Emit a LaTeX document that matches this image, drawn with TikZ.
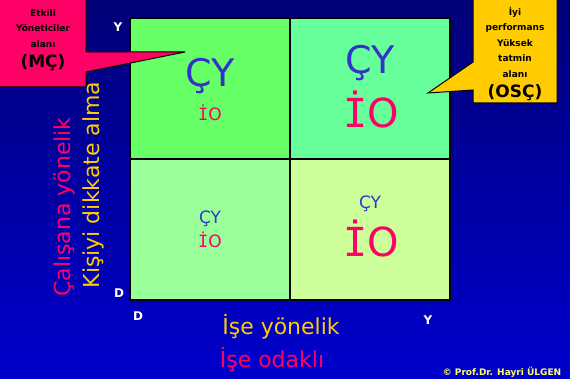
\documentclass[tikz,border=0pt]{standalone}
\usepackage{fontspec}
\setmainfont{DejaVu Sans}
\newfontfamily\iofont{DejaVu Sans Mono}
\newcommand{\IOmark}{{\iofont İ}O}
\usetikzlibrary{positioning}
\definecolor{bgtop}{RGB}{0, 0, 120}
\definecolor{bgbottom}{RGB}{0, 0, 205}
\definecolor{cellA}{RGB}{102, 255, 102}
\definecolor{cellB}{RGB}{102, 255, 153}
\definecolor{cellC}{RGB}{153, 255, 153}
\definecolor{cellD}{RGB}{204, 255, 153}
\definecolor{hotpink}{RGB}{255, 0, 102}
\definecolor{gold}{RGB}{255, 204, 0}
\definecolor{cyblue}{RGB}{51, 51, 204}
\definecolor{lightyellow}{RGB}{255, 255, 102}
\tikzset{
    cell/.style={draw=black, line width=1.5pt, minimum width=160pt, minimum height=141pt, inner sep=0pt, outer sep=0pt},
    bubble/.style={draw=black, line width=1pt},
    bubbletext/.style={align=center, font=\bfseries\fontsize{9}{15.5}\selectfont, text=black},
    axisletter/.style={white, font=\bfseries\fontsize{12}{12}\selectfont},
    cybig/.style={cyblue, font=\fontsize{38}{38}\selectfont},
    cysmall/.style={cyblue, font=\fontsize{17}{17}\selectfont},
    iobig/.style={hotpink, font=\fontsize{40}{40}\selectfont},
    iosmall/.style={hotpink, font=\fontsize{17}{17}\selectfont},
    axistitle/.style={font=\fontsize{22}{22}\selectfont, inner sep=0pt}
}

\begin{document}
\begin{tikzpicture}[x=1pt, y=-1pt]
    % background, dark navy fading to blue
    \shade[top color=bgtop, bottom color=bgbottom] (0,0) rectangle (570,379);
    \useasboundingbox (0,0) rectangle (570,379);

    % the four cells of the grid
    \node[cell, fill=cellA] (tl) at (210, 88.5) {};
    \node[cell, fill=cellB, right=0pt of tl] (tr) {};
    \node[cell, fill=cellC, below=0pt of tl] (bl) {};
    \node[cell, fill=cellD, right=0pt of bl] (br) {};

    % cell contents
    \node[cybig] (tlcy) at (210, 76) {ÇY};
    \node[iosmall] (tlio) at (210, 113) {\IOmark};
    \node[cybig] (trcy) at (370, 63) {ÇY};
    \node[iobig] (trio) at (371, 110) {\IOmark};
    \node[cysmall] (blcy) at (210, 219) {ÇY};
    \node[iosmall] (blio) at (210, 240) {\IOmark};
    \node[cysmall] (brcy) at (370, 204) {ÇY};
    \node[iobig] (brio) at (371, 239) {\IOmark};

    % axis end letters
    \node[axisletter] (ytop) at (118, 27) {Y};
    \node[axisletter] (dleft) at (119, 293) {D};
    \node[axisletter] (dbottom) at (138, 316) {D};
    \node[axisletter] (yright) at (428, 320) {Y};

    % axis titles
    \node[axistitle, gold, rotate=90] (kisiyi) at (93, 185) {Kişiyi dikkate alma};
    \node[axistitle, hotpink, rotate=90] (calisana) at (64, 207) {Çalışana yönelik};
    \node[axistitle, gold] (iseyon) at (281, 327) {İşe yönelik};
    \node[axistitle, hotpink] (iseoda) at (272, 360) {İşe odaklı};

    % pink callout, pointing into the top left cell
    \draw[bubble, fill=hotpink] (-2,-2) -- (86,-2) -- (86,52) -- (185,52) -- (86,72) -- (86,87) -- (-2,87) -- cycle;
    \node[bubbletext] (mc) at (43, 40) {Etkili\\Yöneticiler\\alanı\\[5pt]{\fontsize{17}{17}\selectfont (MÇ)}};

    % yellow callout, pointing into the top right cell
    \draw[bubble, fill=gold] (473,-2) -- (557,-2) -- (557,103) -- (473,103) -- (473,90) -- (428,93) -- (473,62) -- cycle;
    \node[bubbletext] (osc) at (515, 54) {İyi\\performans\\Yüksek\\tatmin\\alanı\\[5pt]{\fontsize{17}{17}\selectfont (OSÇ)}};

    % credit line
    \node[lightyellow, font=\bfseries\fontsize{9}{9}\selectfont] (credit) at (502, 372) {© Prof.Dr. Hayri ÜLGEN};
\end{tikzpicture}
\end{document}
